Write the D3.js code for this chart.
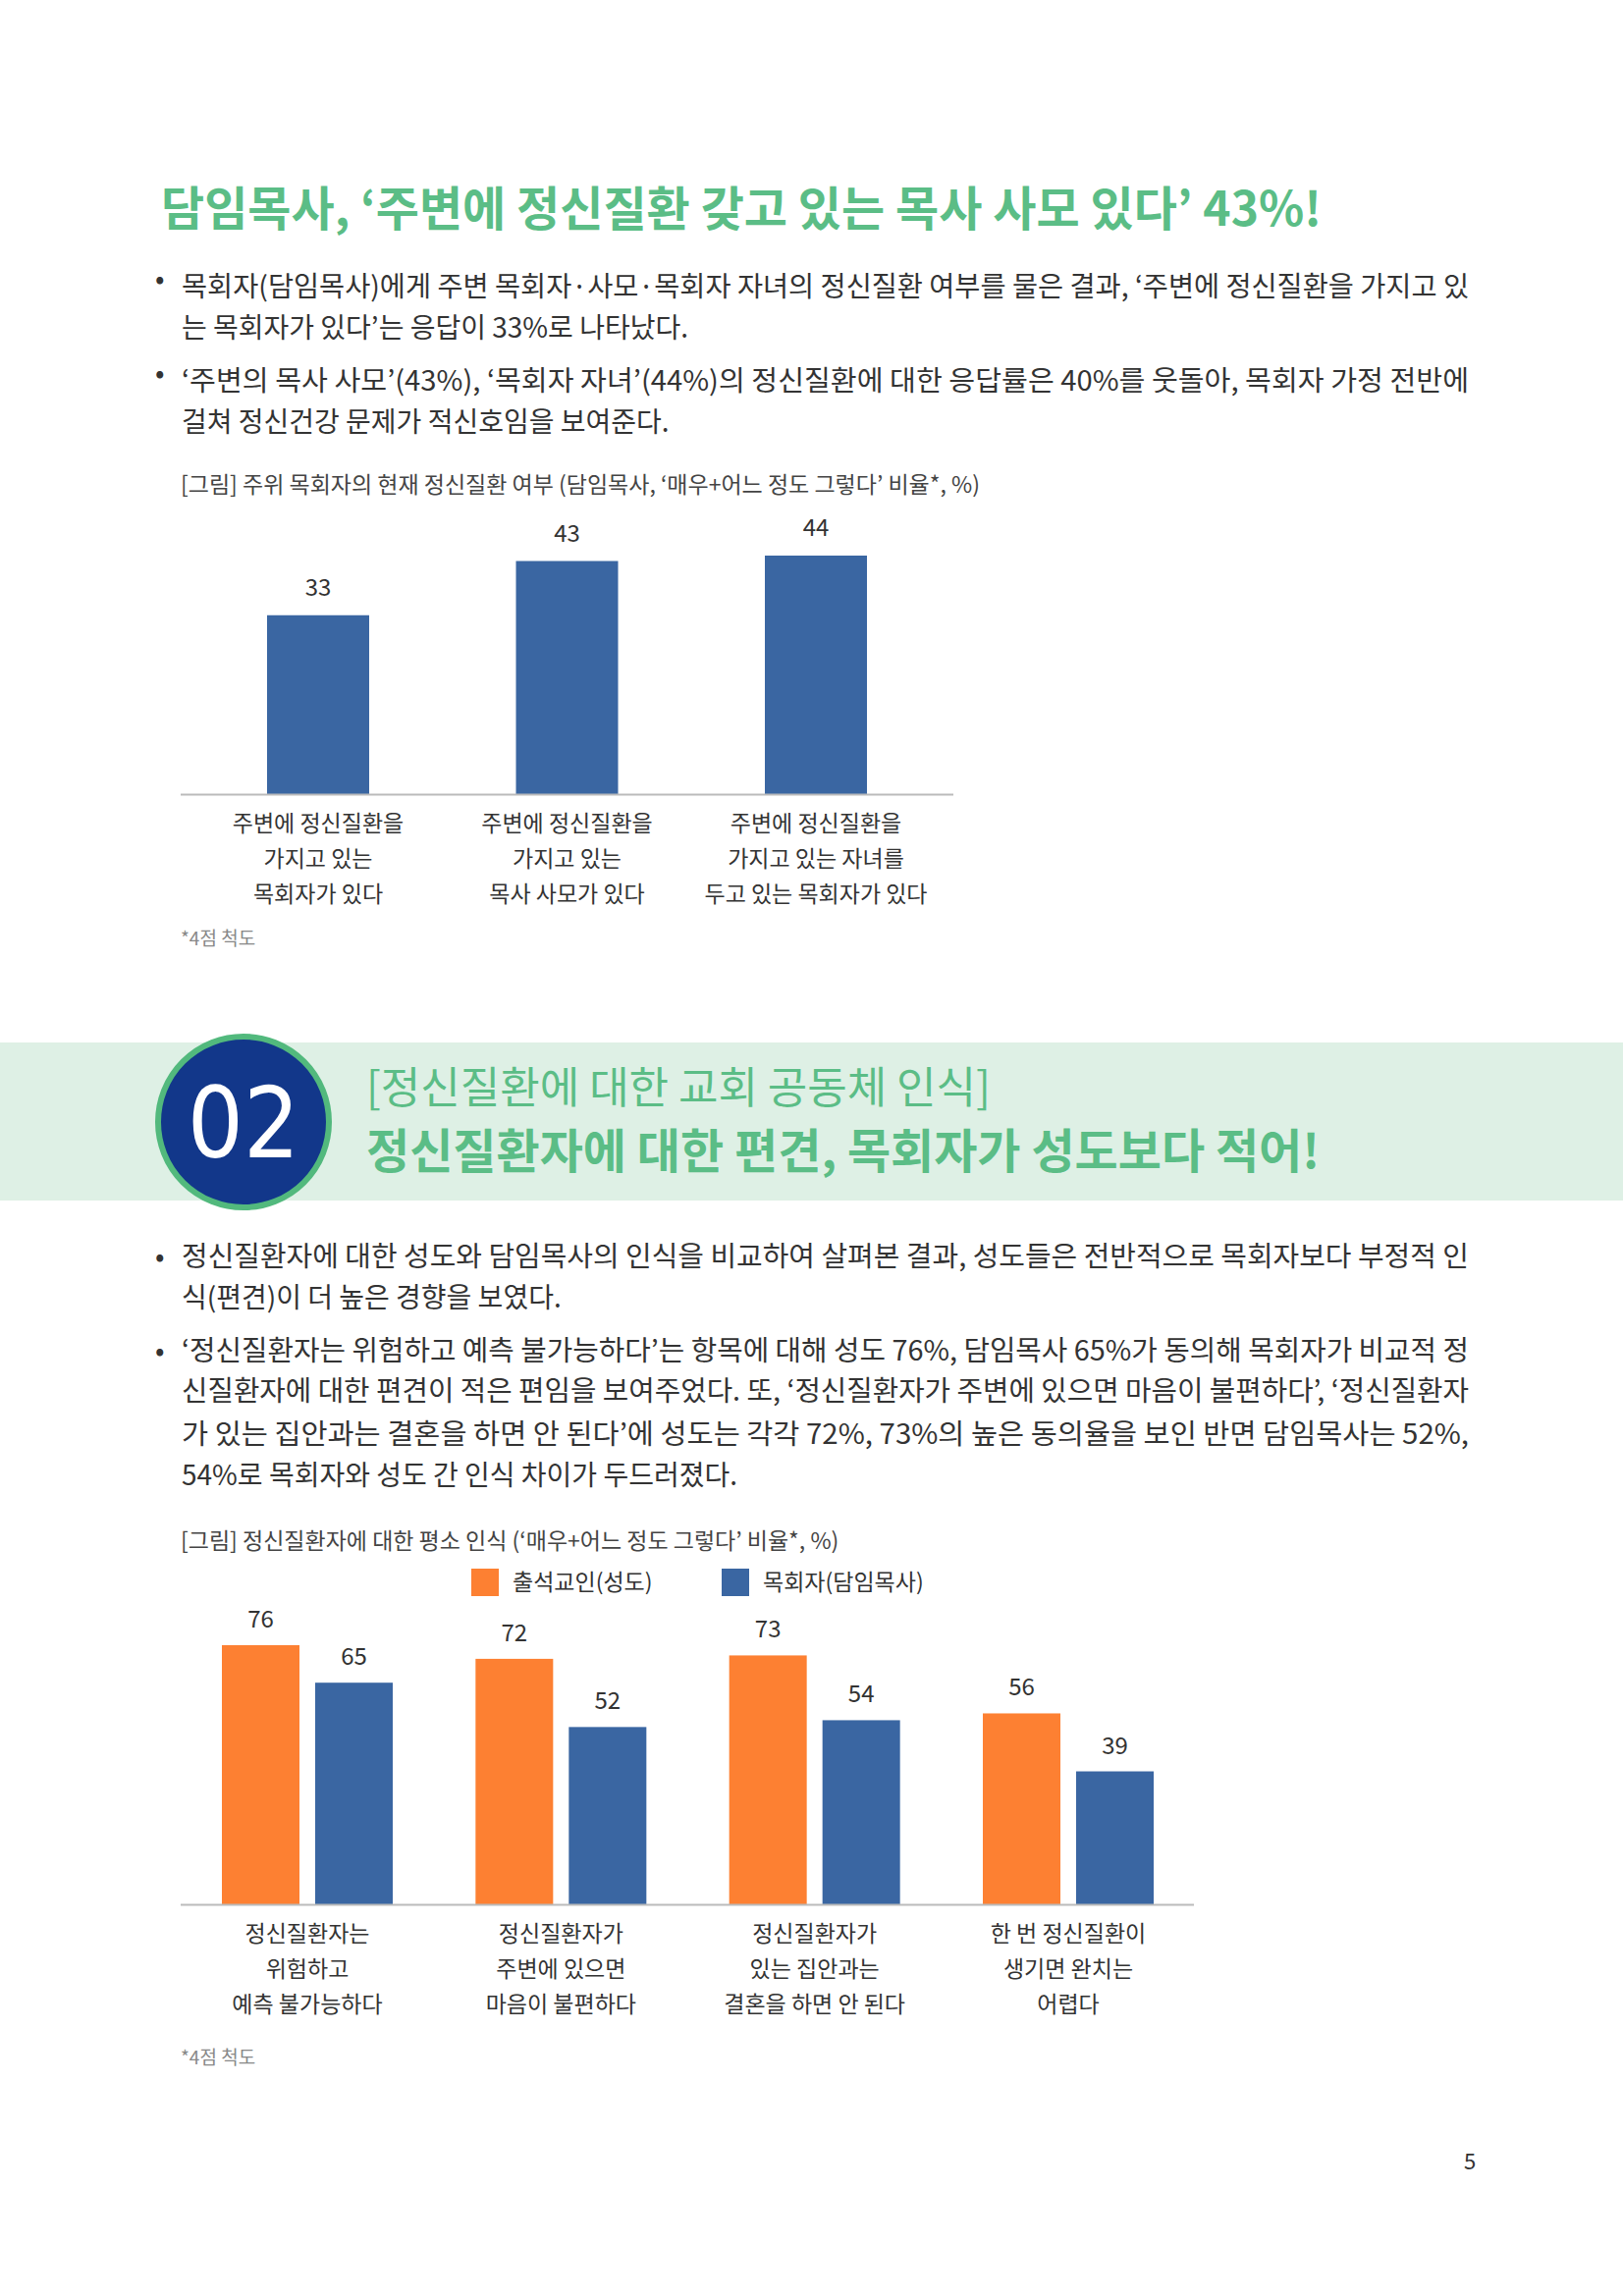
<!DOCTYPE html>
<html><head><meta charset="utf-8">
<script src="https://cdn.jsdelivr.net/npm/d3@7"></script>
<style>body{margin:0;background:#fff}svg{display:block}</style>
</head><body>
<script>
const cats1 = [["주변에 정신질환을","가지고 있는","목회자가 있다"],["주변에 정신질환을","가지고 있는","목사 사모가 있다"],["주변에 정신질환을","가지고 있는 자녀를","두고 있는 목회자가 있다"]];
const vals1 = [33,43,44];
const cats2 = [["정신질환자는","위험하고","예측 불가능하다"],["정신질환자가","주변에 있으면","마음이 불편하다"],["정신질환자가","있는 집안과는","결혼을 하면 안 된다"],["한 번 정신질환이","생기면 완치는","어렵다"]];
const seriesNames = ["출석교인(성도)","목회자(담임목사)"];
const laity = [76,72,73,56];
const pastors = [65,52,54,39];

const W=1653,H=2339,F='"Noto Sans CJK KR","Noto Sans",sans-serif';
const svg=d3.select("body").append("svg").attr("width",W).attr("height",H).style("font-family",F);
const GREEN="#5bbd86",BLUE="#3a66a2",ORANGE="#fd8032",TXT="#333";

svg.append("text").attr("x",164).attr("y",230).attr("font-size",48).attr("font-weight",700).attr("fill",GREEN)
 .text("담임목사, ‘주변에 정신질환 갖고 있는 목사 사모 있다’ 43%!");
function para(lines,y0){
  lines.forEach((l,i)=>{
    svg.append("text").attr("x",185).attr("y",y0[i]).attr("font-size",28).attr("fill",TXT).attr("textLength",l[1]?1311:null).attr("lengthAdjust","spacingAndGlyphs").text(l[0]);
  });
}
[292,388].forEach(y=>svg.append("text").attr("x",158).attr("y",y+2).attr("font-size",28).attr("fill",TXT).text("•"));
para([["목회자(담임목사)에게 주변 목회자·사모·목회자 자녀의 정신질환 여부를 물은 결과, ‘주변에 정신질환을 가지고 있",1],["는 목회자가 있다’는 응답이 33%로 나타났다.",0],["‘주변의 목사 사모’(43%), ‘목회자 자녀’(44%)의 정신질환에 대한 응답률은 40%를 웃돌아, 목회자 가정 전반에",1],["걸쳐 정신건강 문제가 적신호임을 보여준다.",0]],[302,344,398,440]);
svg.append("text").attr("x",184).attr("y",502).attr("font-size",23).attr("fill","#444").text("[그림] 주위 목회자의 현재 정신질환 여부 (담임목사, ‘매우+어느 정도 그렇다’ 비율*, %)");

// chart 1
const x1=d3.scalePoint().domain(d3.range(3)).range([324,831]);
const y1=d3.scaleLinear().domain([0,44]).range([809,566]);
const g1=svg.append("g");
g1.selectAll("rect").data(vals1).join("rect").attr("x",(d,i)=>x1(i)-52).attr("width",104).attr("y",d=>y1(d)).attr("height",d=>y1(0)-y1(d)).attr("fill",BLUE);
g1.selectAll("text.v").data(vals1).join("text").attr("x",(d,i)=>x1(i)).attr("y",d=>y1(d)-20).attr("text-anchor","middle").attr("font-size",24).attr("fill",TXT).text(d=>d);
g1.append("line").attr("x1",184).attr("x2",971).attr("y1",809.5).attr("y2",809.5).attr("stroke","#bbb").attr("stroke-width",2);
cats1.forEach((c,i)=>c.forEach((t,j)=>g1.append("text").attr("x",x1(i)).attr("y",847+j*36).attr("text-anchor","middle").attr("font-size",23).attr("fill",TXT).text(t)));
svg.append("text").attr("x",184).attr("y",963).attr("font-size",19).attr("fill","#888").text("*4점 척도");

// section band
svg.append("rect").attr("x",0).attr("y",1062).attr("width",W).attr("height",161).attr("fill","#def0e5");
svg.append("circle").attr("cx",248).attr("cy",1143).attr("r",87).attr("fill","#12378a").attr("stroke","#52b97d").attr("stroke-width",6);
svg.append("text").attr("x",248).attr("y",1143).attr("dy","0.36em").attr("text-anchor","middle").attr("font-size",100).attr("font-weight",500).attr("fill","#fff").attr("font-family",'"Liberation Sans Narrow","DejaVu Sans Condensed",sans-serif').text("02");
svg.append("text").attr("x",373).attr("y",1124).attr("font-size",44).attr("fill",GREEN).text("[정신질환에 대한 교회 공동체 인식]");
svg.append("text").attr("x",373).attr("y",1190).attr("font-size",48).attr("font-weight",700).attr("fill",GREEN).text("정신질환자에 대한 편견, 목회자가 성도보다 적어!");

[1280,1376].forEach(y=>svg.append("text").attr("x",158).attr("y",y+10).attr("font-size",28).attr("fill",TXT).text("•"));
para([["정신질환자에 대한 성도와 담임목사의 인식을 비교하여 살펴본 결과, 성도들은 전반적으로 목회자보다 부정적 인",1],["식(편견)이 더 높은 경향을 보였다.",0],["‘정신질환자는 위험하고 예측 불가능하다’는 항목에 대해 성도 76%, 담임목사 65%가 동의해 목회자가 비교적 정",1],["신질환자에 대한 편견이 적은 편임을 보여주었다. 또, ‘정신질환자가 주변에 있으면 마음이 불편하다’, ‘정신질환자",1],["가 있는 집안과는 결혼을 하면 안 된다’에 성도는 각각 72%, 73%의 높은 동의율을 보인 반면 담임목사는 52%,",1],["54%로 목회자와 성도 간 인식 차이가 두드러졌다.",0]],[1290,1332,1386,1427,1471,1513]);
svg.append("text").attr("x",184).attr("y",1578).attr("font-size",23).attr("fill","#444").text("[그림] 정신질환자에 대한 평소 인식 (‘매우+어느 정도 그렇다’ 비율*, %)");

// legend
const lg=[[480,ORANGE],[735,BLUE]];
seriesNames.forEach((n,i)=>{
  svg.append("rect").attr("x",lg[i][0]).attr("y",1598).attr("width",28).attr("height",28).attr("fill",lg[i][1]);
  svg.append("text").attr("x",lg[i][0]+42).attr("y",1620).attr("font-size",23).attr("fill",TXT).text(n);
});

// chart 2
const x2=d3.scalePoint().domain(d3.range(4)).range([313,1088]);
const y2=d3.scaleLinear().domain([0,76]).range([1940,1676]);
const g2=svg.append("g");
[[laity,ORANGE,-47.5],[pastors,BLUE,47.5]].forEach(([vals,col,off])=>{
  g2.append("g").selectAll("rect").data(vals).join("rect").attr("x",(d,i)=>x2(i)+off-39.5).attr("width",79).attr("y",d=>y2(d)).attr("height",d=>y2(0)-y2(d)).attr("fill",col);
  g2.append("g").selectAll("text").data(vals).join("text").attr("x",(d,i)=>x2(i)+off).attr("y",d=>y2(d)-18).attr("text-anchor","middle").attr("font-size",24).attr("fill",TXT).text(d=>d);
});
g2.append("line").attr("x1",184).attr("x2",1216).attr("y1",1940.5).attr("y2",1940.5).attr("stroke","#bbb").attr("stroke-width",2);
cats2.forEach((c,i)=>c.forEach((t,j)=>g2.append("text").attr("x",x2(i)).attr("y",1978+j*36).attr("text-anchor","middle").attr("font-size",23).attr("fill",TXT).text(t)));
svg.append("text").attr("x",184).attr("y",2103).attr("font-size",19).attr("fill","#888").text("*4점 척도");
svg.append("text").attr("x",1497).attr("y",2210).attr("text-anchor","middle").attr("font-size",22).attr("fill",TXT).text("5");
</script>
</body></html>
